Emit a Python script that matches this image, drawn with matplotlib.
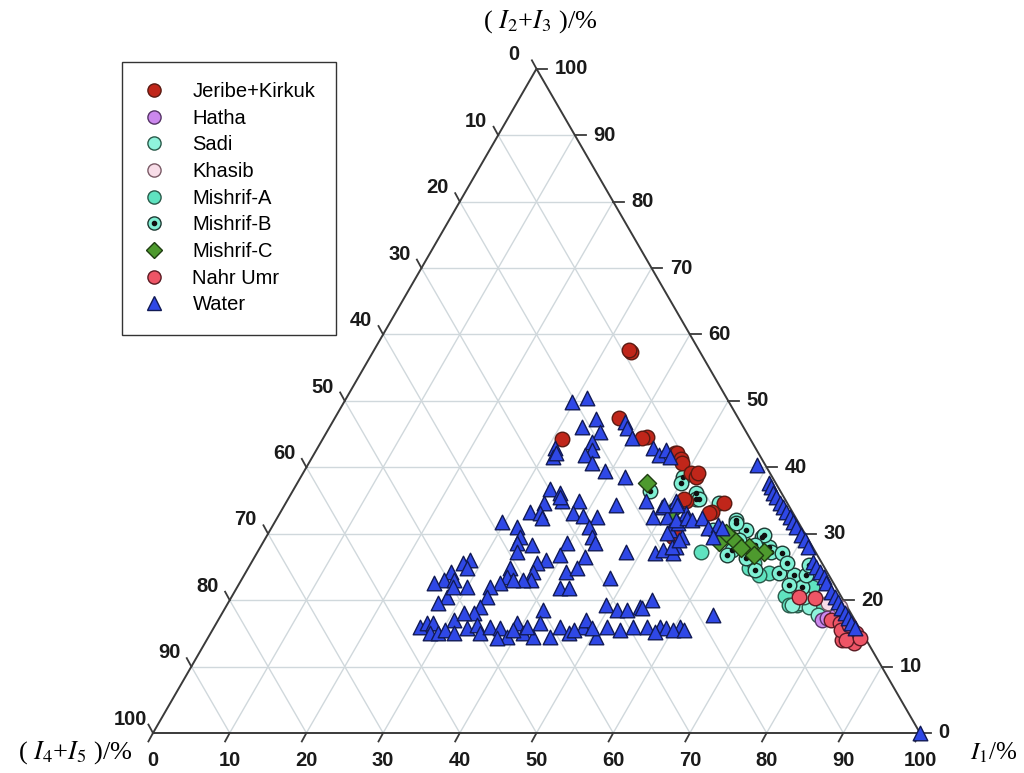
#import used libraries
import numpy as np
from matplotlib import pyplot as plt
from matplotlib.lines import Line2D
from matplotlib.legend_handler import HandlerTuple

plt.rcParams['mathtext.fontset'] = 'stix'

#data: I1 (%) and I2+I3 (%) for each group
jk_i1 = [33.7, 33.3, 31.2, 37.1, 42.2, 41.5, 46.9, 47.3, 48.2, 48.6, 50.6, 51.5, 51.4, 52.0, 56.3, 57.1, 51.6, 53.0, 53.3, 56.0]
jk_i23 = [57.3, 57.6, 44.2, 47.4, 44.5, 44.4, 42.2, 42.1, 41.3, 40.7, 39.1, 38.5, 39.2, 35.0, 33.2, 34.7, 35.3, 29.5, 29.8, 33.1]

hatha_i1 = [78.7, 79.2, 80.2]
hatha_i23 = [17.0, 17.3, 18.0]

sadi_i1 = [74.5, 76.1, 77.8, 73.7, 74.7]
sadi_i23 = [19.5, 18.9, 17.7, 19.2, 20.4]

khasib_i1 = [78.2, 80.1]
khasib_i23 = [19.5, 18.9]

mA_i1 = [57.9, 65.3, 68.3, 74.3, 75.9, 77.6, 65.6, 74.9, 61.7, 72.0, 73.3, 67.1]
mA_i23 = [27.2, 24.8, 24.1, 19.2, 20.0, 18.5, 25.6, 22.0, 28.3, 20.7, 19.2, 23.8]

mB_i1 = [49.8, 50.1, 52.8, 53.2, 46.5, 53.6, 56.5, 60.0, 62.1, 61.8, 64.7, 66.3, 60.2, 61.5, 64.2,
         64.8, 67.0, 68.5, 69.6, 71.7, 73.6, 73.3, 69.9, 72.9, 57.7, 64.3, 71.8, 66.2, 61.9]
mB_i23 = [38.5, 37.6, 36.1, 35.3, 36.5, 35.3, 34.7, 32.0, 30.5, 27.5, 29.5, 28.0, 31.6, 26.8, 26.3,
          29.8, 27.2, 27.1, 24.1, 23.8, 22.0, 23.8, 25.6, 25.3, 30.5, 28.3, 22.3, 24.5, 29.0]

mC_i1 = [45.6, 51.0, 59.5, 61.3, 63.7, 66.1, 59.7, 65.0, 62.8]
mC_i23 = [37.7, 33.2, 28.7, 29.0, 28.0, 27.2, 30.1, 26.8, 27.8]

nahr_i1 = [76.1, 79.9, 82.8, 84.7, 84.2, 81.3, 82.0, 83.4, 85.0, 74.0, 82.7]
nahr_i23 = [20.3, 17.0, 14.0, 13.5, 15.0, 16.5, 15.5, 14.0, 14.3, 20.4, 16.2]

water_i1 = [29.7, 31.4, 34.2, 32.9, 35.6, 35.3, 36.0, 35.4, 36.9, 30.9, 31.4, 39.2, 42.3, 43.2, 33.3,
            35.0, 35.8, 33.7, 32.5, 33.9, 34.6, 38.1, 38.2, 39.7, 41.7, 29.6, 31.9, 33.1, 33.2, 35.2,
            41.4, 42.5, 43.3, 39.7, 39.6, 43.1, 33.8, 48.1, 47.9, 38.3, 37.2, 37.4, 41.8, 42.9, 42.1,
            43.4, 37.8, 36.7, 34.1, 34.4, 35.4, 33.9, 32.9, 33.4, 33.2, 32.9, 28.3, 27.6, 28.5, 26.8,
            26.5, 27.8, 25.4, 29.9, 28.1, 27.4, 28.1,
            26.9, 27.5, 28.3, 28.6, 29.6, 30.8, 31.6, 33.0, 34.1, 35.1, 36.0, 37.3, 38.9, 39.2, 40.7,
            42.3, 41.6, 42.2, 44.5, 45.1, 46.8, 48.1, 48.0, 50.6, 51.2, 49.5, 51.2, 52.5, 54.6, 54.0,
            56.4, 55.1, 58.1, 59.0, 60.7, 60.0, 54.3, 64.1, 30.3, 31.8, 39.2, 40.8, 47.2, 53.1, 49.3,
            57.8, 61.5, 37.7,
            46.8, 48.9, 49.4, 50.7, 50.7, 52.1, 52.6, 51.9, 53.0, 54.2, 51.9, 52.7, 54.2, 54.2, 38.1,
            38.8, 40.2, 43.7, 45.1, 45.6, 35.3, 31.5, 46.6, 49.5, 51.2, 52.2, 53.5, 54.3, 55.4, 56.9,
            58.0, 58.8, 58.2, 53.7, 54.1,
            58.6, 61.4, 62.1, 62.7, 63.5, 64.4, 65.1, 65.9, 66.8, 67.6, 68.3, 69.6, 70.5, 71.4, 73.2,
            73.9, 74.9, 75.7, 76.4, 77.8, 78.7, 79.5, 80.3, 81.2, 82.0, 82.8, 83.6, 100.0]
water_i23 = [49.8, 50.4, 47.2, 46.0, 45.3, 43.8, 42.6, 41.8, 40.7, 42.9, 41.6, 39.5, 38.5, 34.4, 36.8,
             36.1, 35.0, 34.6, 33.2, 33.1, 32.3, 35.0, 33.1, 32.6, 32.5, 31.7, 31.0, 29.5, 28.6, 28.3,
             31.0, 29.5, 28.6, 28.6, 26.8, 26.5, 27.2, 27.2, 23.3, 26.0, 25.6, 24.2, 24.2, 24.8, 21.8,
             21.8, 23.0, 23.0, 24.8, 23.5, 23.0, 22.6, 22.0, 20.4, 18.9, 18.0, 26.0, 25.6, 24.8, 24.2,
             23.0, 23.0, 22.6, 22.0, 20.4, 19.5, 22.0,
             15.9, 16.5, 16.5, 15.0, 15.0, 17.0, 18.0, 15.8, 16.2, 15.0, 15.9, 15.8, 14.4, 16.5, 15.0,
             14.4, 18.5, 16.5, 14.4, 15.9, 15.0, 15.9, 17.0, 14.4, 15.9, 19.2, 18.5, 18.5, 15.9, 18.9,
             15.9, 20.0, 15.9, 15.8, 15.9, 15.5, 18.8, 17.7, 15.5, 15.0, 15.5, 15.9, 15.5, 15.5, 15.8,
             15.2, 15.5, 14.3,
             35.0, 32.5, 34.0, 32.5, 35.0, 30.5, 31.6, 30.1, 33.1, 29.5, 27.1, 27.5, 27.1, 28.0, 46.8,
             45.9, 44.4, 42.9, 41.8, 42.6, 35.5, 42.2, 41.5, 34.3, 34.3, 32.0, 32.3, 32.0, 32.3, 30.8,
             31.3, 30.8, 29.5, 28.0, 29.0,
             40.3, 37.7, 37.0, 36.2, 35.5, 34.7, 34.0, 33.2, 32.5, 31.7, 31.0, 29.8, 29.0, 28.0, 25.7,
             25.0, 24.2, 23.5, 22.6, 21.2, 20.4, 19.7, 18.8, 18.0, 17.3, 16.5, 15.8, 0.0]

ticks = list(range(0, 101, 10))
H = np.sqrt(3) / 2


#convert ternary (I1, I2+I3) to plane coordinates
def tern(i1, i23):
    i1 = np.asarray(i1, dtype=float)
    i23 = np.asarray(i23, dtype=float)
    return i1 + i23 / 2, i23 * H


#make picture and layout
fig = plt.figure(figsize=(10.24, 7.73), dpi=100)
ax = fig.add_axes([0, 0, 1, 1])
sc = 7.67  #pixels per unit
ax.set_xlim(-153 / sc, (1024 - 153) / sc)
ax.set_ylim(-40 / sc, (773 - 40) / sc)
ax.axis('off')

#grid lines
gcol = '#d0d8dc'
for t in ticks[1:-1]:
    x0, y0 = tern(0, t)
    x1, y1 = tern(100 - t, t)
    ax.plot([x0, x1], [y0, y1], color=gcol, lw=1.0, zorder=1)
    x0, y0 = tern(t, 0)
    x1, y1 = tern(t, 100 - t)
    ax.plot([x0, x1], [y0, y1], color=gcol, lw=1.0, zorder=1)
    x0, y0 = tern(t, 0)
    x1, y1 = tern(0, t)
    ax.plot([x0, x1], [y0, y1], color=gcol, lw=1.0, zorder=1)

#triangle frame
fx, fy = tern([0, 100, 0, 0], [0, 0, 100, 0])
ax.plot(fx, fy, color='#3a3a3a', lw=1.4, zorder=2)

tk = dict(color='#3a3a3a', lw=1.3, zorder=2)
lab = dict(fontsize=14.5, fontweight='bold', family='Liberation Sans', color='#1a1a1a')
for t in ticks:
    #bottom axis I1
    x, y = tern(t, 0)
    ax.plot([x, x - 0.6], [y, y - 1.1], **tk)
    ax.text(x, y - 3.6, str(t), ha='center', va='center', **lab)
    #right axis I2+I3
    x, y = tern(100 - t, t)
    ax.plot([x, x + 1.4], [y, y], **tk)
    ax.text(x + 2.4, y, str(t), ha='left', va='center', **lab)
    #left axis I4+I5
    x, y = tern(0, 100 - t)
    ax.plot([x, x - 0.6], [y, y + 1.1], **tk)
    ax.text(x - 2.9, y + 1.8, str(t), ha='center', va='center', **lab)

#axis titles
ttl = dict(fontsize=19, family='Liberation Serif', ha='center', va='center')
ax.text(50.5, 92.7, r'( $I_2$+$I_3$ )/%', **ttl)
ax.text(-10.1, -2.6, r'( $I_4$+$I_5$ )/%', **ttl)
ax.text(109.6, -2.6, r'$I_1$/%', fontsize=18, family='Liberation Serif', ha='center', va='center')

#plot data
ms = 110
def scat(i1, i23, marker, fc, ec, z, s=ms):
    x, y = tern(i1, i23)
    ax.scatter(x, y, s=s, marker=marker, facecolor=fc, edgecolor=ec, linewidth=1.0, zorder=z)

scat(mA_i1, mA_i23, 'o', '#5fe3c0', '#2a5a4a', 3)
scat(sadi_i1, sadi_i23, 'o', '#8ff3dc', '#2a5a4a', 3)
scat(mB_i1, mB_i23, 'o', '#7ff0d4', '#1e3a33', 4)
bx, by = tern(mB_i1, mB_i23)
ax.scatter(bx, by, s=9, color='#111111', zorder=4)
scat(jk_i1, jk_i23, 'o', '#c0261a', '#5a1a12', 4)
scat(mC_i1, mC_i23, 'D', '#4e9a2e', '#1f3d12', 5, s=85)
scat(hatha_i1, hatha_i23, 'o', '#cc88ee', '#553366', 5)
scat(khasib_i1, khasib_i23, 'o', '#f8dde8', '#7a5a66', 5)
scat(nahr_i1, nahr_i23, 'o', '#ee5566', '#5a1a22', 5)
scat(water_i1, water_i23, '^', '#2f48e6', '#111a55', 6)

#legend
def h(marker, fc, ec, size=9.5):
    return Line2D([], [], ls='none', marker=marker, markersize=size, markerfacecolor=fc,
                  markeredgecolor=ec, markeredgewidth=1.0)

handles = [h('o', '#c0261a', '#5a1a12'), h('o', '#cc88ee', '#553366'), h('o', '#8ff3dc', '#2a5a4a'),
           h('o', '#f8dde8', '#7a5a66'), h('o', '#5fe3c0', '#2a5a4a'),
           (h('o', '#7ff0d4', '#1e3a33'), Line2D([], [], ls='none', marker='o', markersize=3, color='#111111')),
           h('D', '#4e9a2e', '#1f3d12', 8.5), h('o', '#ee5566', '#5a1a22'), h('^', '#2f48e6', '#111a55')]
labels = ['Jeribe+Kirkuk', 'Hatha', 'Sadi', 'Khasib', 'Mishrif-A', 'Mishrif-B', 'Mishrif-C', 'Nahr Umr', 'Water']
leg = fig.legend(handles, labels, loc='upper left', bbox_to_anchor=(122 / 1024, 1 - 62 / 773),
                 handler_map={tuple: HandlerTuple(ndivide=1)}, frameon=True, fancybox=False,
                 edgecolor='#333333', framealpha=1, borderaxespad=0,
                 prop={'family': 'Liberation Sans', 'size': 14.5},
                 labelspacing=0.38, handlelength=1.2, handletextpad=1.3, borderpad=1.0)
leg.get_frame().set_linewidth(1.0)

#save figure
plt.savefig('out.png', dpi=100)
plt.close()
